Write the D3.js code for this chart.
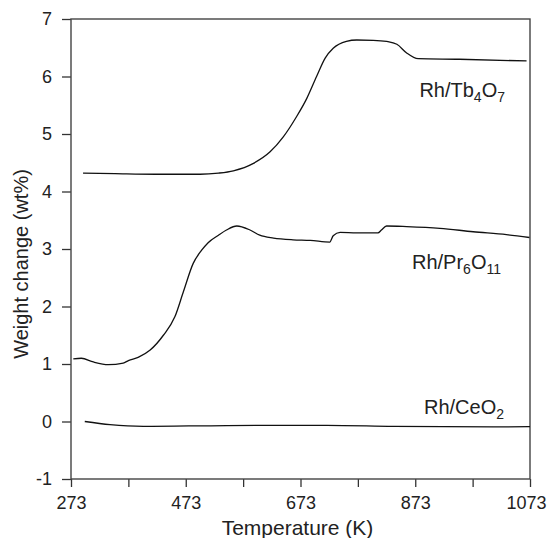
<!DOCTYPE html>
<html>
<head>
<meta charset="utf-8">
<script src="https://cdn.jsdelivr.net/npm/d3@7"></script>
<style>
  body { margin: 0; background: #fff; }
  text { font-family: "Liberation Sans", Arial, sans-serif; }
</style>
</head>
<body>
<div id="wrapper"></div>
<script>
// data: [temperature K, weight change wt%]
const tb4o7 = [
  [294, 4.32], [350, 4.31], [420, 4.30], [498, 4.30], [530, 4.32], [556, 4.36],
  [591, 4.49], [620, 4.69], [643, 4.95], [666, 5.30], [684, 5.62], [701, 6.00],
  [716, 6.32], [730, 6.49], [753, 6.61], [771, 6.635], [800, 6.63], [823, 6.61],
  [841, 6.56], [858, 6.41], [878, 6.31], [950, 6.30], [1067, 6.27]
]
const pr6o11 = [
  [277, 1.09], [291, 1.10], [312, 1.035], [338, 0.99], [364, 1.017], [373, 1.06],
  [390, 1.116], [411, 1.243], [434, 1.50], [454, 1.82], [469, 2.26], [486, 2.75],
  [500, 2.97], [512, 3.11], [530, 3.24], [544, 3.33], [562, 3.40], [585, 3.33],
  [602, 3.24], [626, 3.19], [660, 3.16], [690, 3.15], [724, 3.12], [730, 3.23],
  [742, 3.29], [771, 3.28], [808, 3.28], [814, 3.33], [823, 3.40], [858, 3.39],
  [916, 3.36], [974, 3.30], [1032, 3.25], [1072, 3.20]
]
const ceo2 = [
  [297, 0.0], [341, -0.055], [399, -0.085], [544, -0.07], [719, -0.066],
  [835, -0.085], [1009, -0.095], [1073, -0.09]
]
const xTicks = [273, 373, 473, 573, 673, 773, 873, 973, 1073]
const xLabelled = [273, 473, 673, 873, 1073]
const yTicks = [-1, 0, 1, 2, 3, 4, 5, 6, 7]
const seriesLabels = [
  { base: "Rh/Tb", parts: [["4", true], ["O", false], ["7", true]], x: 505, y: 97 },
  { base: "Rh/Pr", parts: [["6", true], ["O", false], ["11", true]], x: 501, y: 269 },
  { base: "Rh/CeO", parts: [["2", true]], x: 504, y: 414 },
]

let dimensions = {
  width: 547,
  height: 538,
  margin: { top: 19, right: 17, bottom: 59, left: 71 },
}
dimensions.boundedWidth = dimensions.width - dimensions.margin.left - dimensions.margin.right
dimensions.boundedHeight = dimensions.height - dimensions.margin.top - dimensions.margin.bottom

const wrapper = d3.select("#wrapper")
  .append("svg")
  .attr("width", dimensions.width)
  .attr("height", dimensions.height)

const bounds = wrapper.append("g")
  .attr("transform", `translate(${dimensions.margin.left},${dimensions.margin.top})`)

const xScale = d3.scaleLinear()
  .domain([273, 1073])
  .range([0, dimensions.boundedWidth])

const yScale = d3.scaleLinear()
  .domain([-1, 7])
  .range([dimensions.boundedHeight, 0])

// axes
const xAxis = bounds.append("g")
  .attr("transform", `translate(0,${dimensions.boundedHeight})`)
  .call(d3.axisBottom(xScale)
    .tickValues(xTicks)
    .tickSize(8)
    .tickPadding(9)
    .tickFormat((d) => xLabelled.includes(d) ? d : ""))
xAxis.selectAll("text")
  .attr("font-size", 18).attr("fill", "#222")
  .style("font-family", "Liberation Sans, Arial")
  .attr("dx", (d) => d == 1073 ? -4 : 0)

const yAxis = bounds.append("g")
  .call(d3.axisLeft(yScale)
    .tickValues(yTicks)
    .tickSize(9)
    .tickPadding(10)
    .tickFormat((d) => String(d)))
yAxis.selectAll("text").attr("font-size", 18).attr("fill", "#222").style("font-family", "Liberation Sans, Arial")

;[xAxis, yAxis].forEach((a) => {
  a.select(".domain").remove()
  a.selectAll("line").attr("stroke", "#333").attr("stroke-width", 1.3)
})

// frame
bounds.append("rect")
  .attr("width", dimensions.boundedWidth)
  .attr("height", dimensions.boundedHeight)
  .attr("fill", "none")
  .attr("stroke", "#444")
  .attr("stroke-width", 1.4)

// curves
const lineGenerator = d3.line()
  .x((d) => xScale(d[0]))
  .y((d) => yScale(d[1]))
  .curve(d3.curveMonotoneX)

bounds.selectAll("path.curve")
  .data([tb4o7, pr6o11, ceo2])
  .enter().append("path")
    .attr("class", "curve")
    .attr("d", lineGenerator)
    .attr("fill", "none")
    .attr("stroke", "#111")
    .attr("stroke-width", 1.3)

// series labels with subscripts
seriesLabels.forEach((s) => {
  const t = wrapper.append("text")
    .attr("x", s.x)
    .attr("y", s.y)
    .attr("text-anchor", "end")
    .attr("font-size", 20)
    .attr("fill", "#222")
  t.append("tspan").text(s.base)
  let down = false
  s.parts.forEach(([txt, sub]) => {
    const dy = sub && !down ? 5 : (!sub && down ? -5 : 0)
    down = sub
    t.append("tspan")
      .attr("dy", dy)
      .attr("font-size", sub ? 14 : 20)
      .text(txt)
  })
})

// axis titles
wrapper.append("text")
  .attr("x", dimensions.margin.left + dimensions.boundedWidth / 2 - 3)
  .attr("y", 535)
  .attr("text-anchor", "middle")
  .attr("font-size", 21)
  .attr("fill", "#222")
  .text("Temperature (K)")

wrapper.append("text")
  .attr("transform", "translate(27.5,264) rotate(-90)")
  .attr("text-anchor", "middle")
  .attr("font-size", 20)
  .attr("fill", "#222")
  .text("Weight change (wt%)")
</script>
</body>
</html>
